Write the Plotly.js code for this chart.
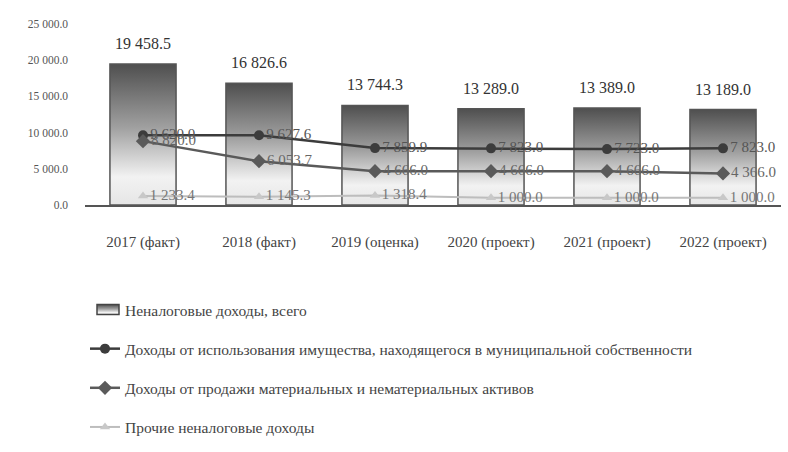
<!DOCTYPE html>
<html><head><meta charset="utf-8">
<script src="https://cdn.plot.ly/plotly-3.0.1.min.js"></script>
<style>body{margin:0;background:#fff}#chart{width:788px;height:452px}</style>
</head><body><div id="chart"></div>
<script>
const categories = ["2017 (факт)", "2018 (факт)", "2019 (оценка)", "2020 (проект)", "2021 (проект)", "2022 (проект)"];
const totalNonTax = [19458.5, 16826.6, 13744.3, 13289.0, 13389.0, 13189.0];
const propertyUse = [9620.0, 9627.6, 7859.9, 7823.0, 7723.0, 7823.0];
const assetSales = [8820.0, 6053.7, 4666.0, 4666.0, 4666.0, 4366.0];
const otherNonTax = [1233.4, 1145.3, 1318.4, 1000.0, 1000.0, 1000.0];
const seriesNames = [
  "Неналоговые доходы, всего",
  "Доходы от использования имущества, находящегося в муниципальной собственности",
  "Доходы от продажи материальных и нематериальных активов",
  "Прочие неналоговые доходы"
];
const yTicks = [0, 5000, 10000, 15000, 20000, 25000];

const serif = "Liberation Serif, Times New Roman, serif";
const traces = [
  {type:"bar", x:categories, y:totalNonTax, name:seriesNames[0], legendgroup:"a",
   width:0.57, marker:{color:"#9a9a9a", line:{color:"#555", width:1.5}},
   texttemplate:"%{y:,.1f}", textposition:"outside", cliponaxis:false,
   textfont:{family:serif, size:16, color:"#333"}},
  {type:"scatter", mode:"lines+markers+text", x:categories, y:propertyUse, name:seriesNames[1], legendgroup:"b",
   line:{color:"#3c3c3c", width:2.5}, marker:{symbol:"circle", size:10, color:"#3c3c3c"},
   texttemplate:"%{y:,.1f}", textposition:"middle right", cliponaxis:false,
   textfont:{family:serif, size:15, color:"#555"}},
  {type:"scatter", mode:"lines+markers+text", x:categories, y:assetSales, name:seriesNames[2], legendgroup:"c",
   line:{color:"#5a5a5a", width:2.5}, marker:{symbol:"diamond", size:11, color:"#5a5a5a"},
   texttemplate:"%{y:,.1f}", textposition:"middle right", cliponaxis:false,
   textfont:{family:serif, size:15, color:"#666"}},
  {type:"scatter", mode:"lines+markers+text", x:categories, y:otherNonTax, name:seriesNames[3], legendgroup:"d",
   line:{color:"#bdbdbd", width:2}, marker:{symbol:"triangle-up", size:9, color:"#c8c8c8"},
   texttemplate:"%{y:,.1f}", textposition:"middle right", cliponaxis:false,
   textfont:{family:serif, size:15, color:"#777"}}
];
const layout = {
  width:788, height:452,
  margin:{l:85, r:7, t:24, b:245},
  paper_bgcolor:"#fff", plot_bgcolor:"#fff",
  separators:". ",
  showlegend:true,
  legend:{orientation:"v", x:0, xanchor:"left", y:-1.32, yanchor:"bottom",
    font:{family:serif, size:15.5, color:"#444"}, tracegroupgap:16, itemwidth:30},
  xaxis:{type:"category", showgrid:false, showline:true, linecolor:"#555", linewidth:1.5,
    ticks:"", ticklabelstandoff:22, tickfont:{family:serif, size:15, color:"#444"}},
  yaxis:{range:[0,25000], tickvals:yTicks, tickformat:",.1f", showgrid:false, showline:false,
    zeroline:false, ticks:"", ticklabelstandoff:16, tickfont:{family:serif, size:11.5, color:"#555"}},
  bargap:0.43
};
function decorate(gd){
  const svg = gd.querySelector("svg.main-svg");
  const ns = "http://www.w3.org/2000/svg";
  if(!document.getElementById("barGrad")){
    let defs = svg.querySelector("defs");
    if(!defs){defs=document.createElementNS(ns,"defs");svg.insertBefore(defs,svg.firstChild);}
    const g = document.createElementNS(ns,"linearGradient");
    g.setAttribute("id","barGrad"); g.setAttribute("x1","0"); g.setAttribute("y1","0");
    g.setAttribute("x2","0"); g.setAttribute("y2","1");
    [["0","#4f4f4f"],["0.45","#a0a0a0"],["0.8","#f2f2f2"],["1","#e6e6e6"]].forEach(function(s){
      const st=document.createElementNS(ns,"stop");st.setAttribute("offset",s[0]);st.setAttribute("stop-color",s[1]);g.appendChild(st);
    });
    defs.appendChild(g);
  }
  gd.querySelectorAll(".bars .point path").forEach(function(p){p.style.fill="url(#barGrad)";});
  gd.querySelectorAll(".bars .point text").forEach(function(t){
    if(t.getAttribute("data-shifted")) return;
    const tr = t.getAttribute("transform") || "";
    t.setAttribute("transform", tr + " translate(0,-9)");
    t.setAttribute("data-shifted","1");
  });
  const entries = gd.querySelectorAll(".legend g.traces");
  if(entries.length){
    entries[0].querySelectorAll(".legendpoints path").forEach(function(p){
      p.setAttribute("d","M-8,-5h22v10h-22z");
      p.style.fill="url(#barGrad)";
      p.style.stroke="#444"; p.style.strokeWidth="1.5px";
    });
  }
}
const gdEl = document.getElementById("chart");
Plotly.newPlot(gdEl, traces, layout, {displayModeBar:false, staticPlot:true}).then(function(gd){
  decorate(gd);
  gd.on("plotly_afterplot", function(){ decorate(gd); });
  setTimeout(function(){ decorate(gd); }, 50);
  setTimeout(function(){ decorate(gd); }, 300);
});
</script></body></html>
